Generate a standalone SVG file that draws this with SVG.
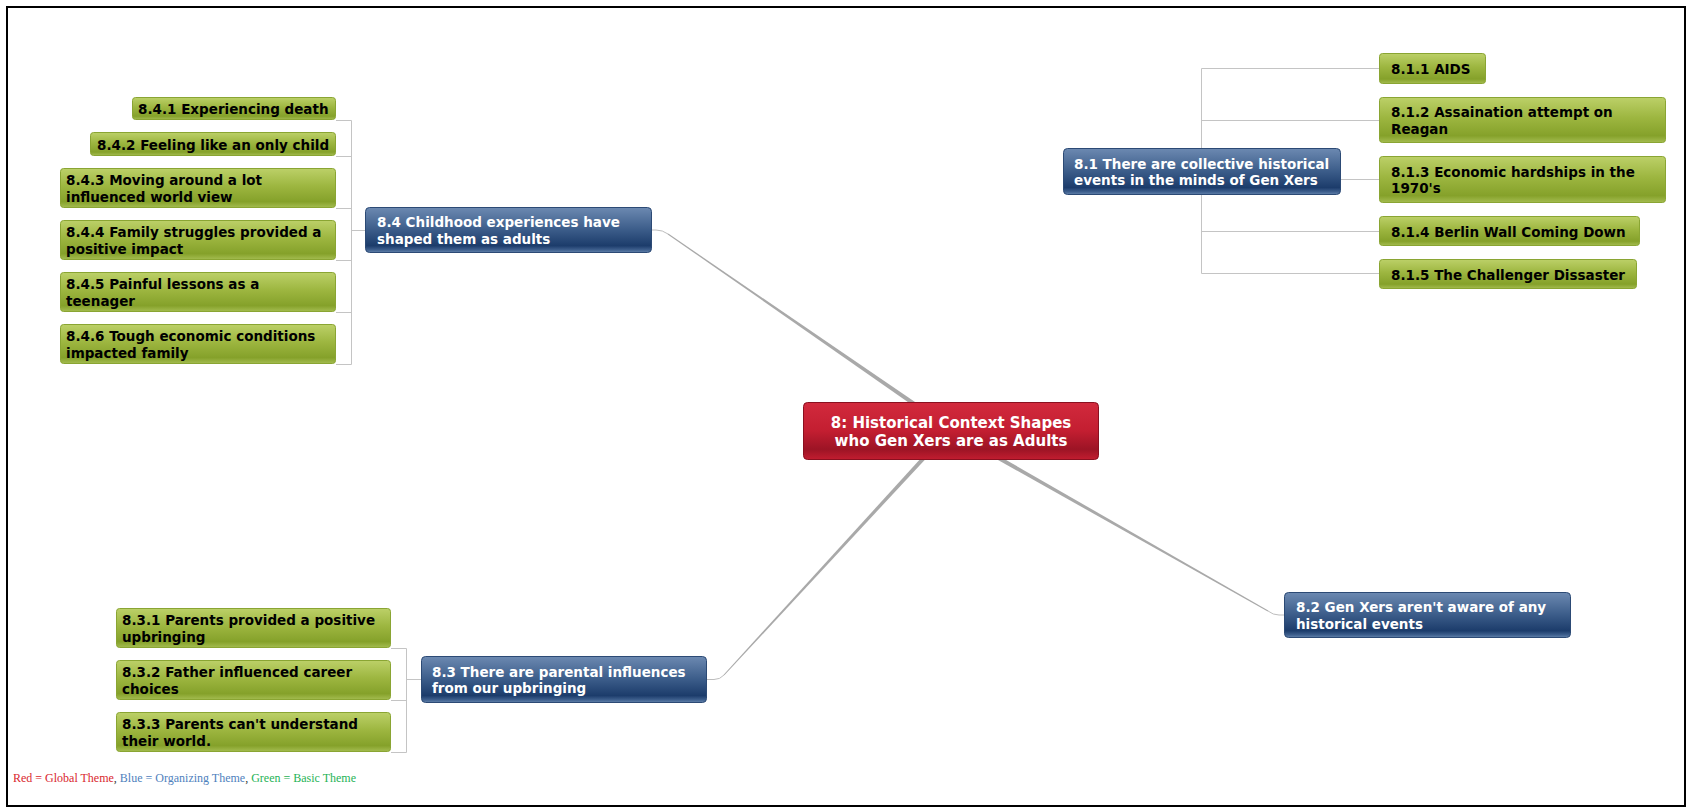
<svg xmlns="http://www.w3.org/2000/svg" width="1687" height="808" viewBox="0 0 1687 808">
  <defs>
    <linearGradient id="gGreen" x1="0" y1="0" x2="0" y2="1">
      <stop offset="0" stop-color="#bcd068"/>
      <stop offset="0.45" stop-color="#9db640"/>
      <stop offset="0.85" stop-color="#85a12a"/>
      <stop offset="1" stop-color="#a4bc50"/>
    </linearGradient>
    <linearGradient id="gBlue" x1="0" y1="0" x2="0" y2="1">
      <stop offset="0" stop-color="#6c89b1"/>
      <stop offset="0.5" stop-color="#3b5c89"/>
      <stop offset="0.85" stop-color="#1c3c6b"/>
      <stop offset="0.94" stop-color="#3e5f8d"/>
      <stop offset="1" stop-color="#6282ab"/>
    </linearGradient>
    <linearGradient id="gRed" x1="0" y1="0" x2="0" y2="1">
      <stop offset="0" stop-color="#d22a3d"/>
      <stop offset="0.5" stop-color="#c31e31"/>
      <stop offset="0.82" stop-color="#9c1425"/>
      <stop offset="1" stop-color="#c21d30"/>
    </linearGradient>
  </defs>
  <style>
    .frame { fill: #ffffff; stroke: #000000; stroke-width: 2; }
    .green { fill: url(#gGreen); stroke: #8aa533; stroke-width: 1; }
    .blue { fill: url(#gBlue); stroke: #2c4a75; stroke-width: 1; }
    .red { fill: url(#gRed); stroke: #8a1020; stroke-width: 1; }
    .tg { font-family: "DejaVu Sans", Verdana, sans-serif; font-weight: bold; font-size: 13.5px; fill: #000000; }
    .tb { font-family: "DejaVu Sans", Verdana, sans-serif; font-weight: bold; font-size: 13.5px; fill: #ffffff; }
    .tr { font-family: "DejaVu Sans", Verdana, sans-serif; font-weight: bold; font-size: 15px; fill: #ffffff; text-anchor: middle; }
    .br { fill: none; stroke: #c4c4c4; stroke-width: 1; }
    .main { fill: #a9a9a9; }
    .mainend { fill: none; stroke: #bdbdbd; stroke-width: 1; }
    .legend { font-family: "Liberation Serif", "Times New Roman", serif; font-size: 12px; }
  </style>

  <rect class="frame" x="7" y="7" width="1678" height="799"/>

  <!-- connectors -->
  <g id="connectors">
    <!-- central topic to 8.4 -->
    <polygon class="main" points="916.89,403.36 668.29,233.59 667.71,234.41 914.61,406.64"/>
    <path class="mainend" d="M668,234 Q662.5,230 656,230 L652,230"/>
    <!-- central topic to 8.3 -->
    <polygon class="main" points="927.47,456.95 724.37,675.34 723.63,674.66 924.53,454.25"/>
    <path class="mainend" d="M724,675 Q720,679.5 714,679.5 L707,679.5"/>
    <!-- central topic to 8.2 -->
    <polygon class="main" points="995.81,458.74 1267.75,611.43 1268.25,610.57 997.79,455.26"/>
    <path class="mainend" d="M1268,611 Q1273,615 1279,615 L1284,615"/>

    <!-- 8.4 bracket -->
    <path class="br" d="M351.5,120.5 V364.5 M336,120.5 H351.5 M336,156.5 H351.5 M336,208.5 H351.5 M336,260.5 H351.5 M336,312.5 H351.5 M336,364.5 H351.5 M351.5,230.5 H365"/>
    <!-- 8.3 bracket -->
    <path class="br" d="M406.5,648.5 V752.5 M391,648.5 H406.5 M391,700.5 H406.5 M391,752.5 H406.5 M406.5,679.5 H421"/>
    <!-- 8.1 bracket -->
    <path class="br" d="M1201.5,68.5 V273.5 M1201.5,68.5 H1379 M1201.5,120.5 H1379 M1341,179.5 H1379 M1201.5,231.5 H1379 M1201.5,273.5 H1379"/>
  </g>

  <!-- central topic -->
  <g id="n8">
    <rect class="red" x="803.5" y="402.5" width="295" height="57" rx="4"/>
    <text class="tr" x="951" y="427.5">8: Historical Context Shapes</text>
    <text class="tr" x="951" y="445.5">who Gen Xers are as Adults</text>
  </g>

  <!-- 8.1 -->
  <g id="n8_1">
    <rect class="blue" x="1063.5" y="148.5" width="277" height="46" rx="4"/>
    <text class="tb" x="1074" y="168.5">8.1 There are collective historical</text>
    <text class="tb" x="1074" y="185">events in the minds of Gen Xers</text>
  </g>
  <g id="n8_1_1">
    <rect class="green" x="1379.5" y="53.5" width="106" height="30" rx="3"/>
    <text class="tg" x="1391" y="74">8.1.1 AIDS</text>
  </g>
  <g id="n8_1_2">
    <rect class="green" x="1379.5" y="97.5" width="286" height="45" rx="3"/>
    <text class="tg" x="1391" y="117">8.1.2 Assaination attempt on</text>
    <text class="tg" x="1391" y="133.5">Reagan</text>
  </g>
  <g id="n8_1_3">
    <rect class="green" x="1379.5" y="156.5" width="286" height="46" rx="3"/>
    <text class="tg" x="1391" y="176.5">8.1.3 Economic hardships in the</text>
    <text class="tg" x="1391" y="193">1970's</text>
  </g>
  <g id="n8_1_4">
    <rect class="green" x="1379.5" y="216.5" width="260" height="29" rx="3"/>
    <text class="tg" x="1391" y="236.5">8.1.4 Berlin Wall Coming Down</text>
  </g>
  <g id="n8_1_5">
    <rect class="green" x="1379.5" y="259.5" width="257" height="29" rx="3"/>
    <text class="tg" x="1391" y="279.5">8.1.5 The Challenger Dissaster</text>
  </g>

  <!-- 8.2 -->
  <g id="n8_2">
    <rect class="blue" x="1284.5" y="592.5" width="286" height="45" rx="4"/>
    <text class="tb" x="1296" y="612">8.2 Gen Xers aren't aware of any</text>
    <text class="tb" x="1296" y="628.5">historical events</text>
  </g>

  <!-- 8.3 -->
  <g id="n8_3">
    <rect class="blue" x="421.5" y="656.5" width="285" height="46" rx="4"/>
    <text class="tb" x="432" y="676.5">8.3 There are parental influences</text>
    <text class="tb" x="432" y="693">from our upbringing</text>
  </g>
  <g id="n8_3_1">
    <rect class="green" x="116.5" y="608.5" width="274" height="39" rx="3"/>
    <text class="tg" x="122" y="625">8.3.1 Parents provided a positive</text>
    <text class="tg" x="122" y="641.5">upbringing</text>
  </g>
  <g id="n8_3_2">
    <rect class="green" x="116.5" y="660.5" width="274" height="39" rx="3"/>
    <text class="tg" x="122" y="677">8.3.2 Father influenced career</text>
    <text class="tg" x="122" y="693.5">choices</text>
  </g>
  <g id="n8_3_3">
    <rect class="green" x="116.5" y="712.5" width="274" height="39" rx="3"/>
    <text class="tg" x="122" y="729">8.3.3 Parents can't understand</text>
    <text class="tg" x="122" y="745.5">their world.</text>
  </g>

  <!-- 8.4 -->
  <g id="n8_4">
    <rect class="blue" x="365.5" y="207.5" width="286" height="45" rx="4"/>
    <text class="tb" x="377" y="227">8.4 Childhood experiences have</text>
    <text class="tb" x="377" y="243.5">shaped them as adults</text>
  </g>
  <g id="n8_4_1">
    <rect class="green" x="132.5" y="97.5" width="203" height="22" rx="3"/>
    <text class="tg" x="138" y="114">8.4.1 Experiencing death</text>
  </g>
  <g id="n8_4_2">
    <rect class="green" x="90.5" y="132.5" width="245" height="23" rx="3"/>
    <text class="tg" x="97" y="149.5">8.4.2 Feeling like an only child</text>
  </g>
  <g id="n8_4_3">
    <rect class="green" x="60.5" y="168.5" width="275" height="39" rx="3"/>
    <text class="tg" x="66" y="185">8.4.3 Moving around a lot</text>
    <text class="tg" x="66" y="201.5">influenced world view</text>
  </g>
  <g id="n8_4_4">
    <rect class="green" x="60.5" y="220.5" width="275" height="39" rx="3"/>
    <text class="tg" x="66" y="237">8.4.4 Family struggles provided a</text>
    <text class="tg" x="66" y="253.5">positive impact</text>
  </g>
  <g id="n8_4_5">
    <rect class="green" x="60.5" y="272.5" width="275" height="39" rx="3"/>
    <text class="tg" x="66" y="289">8.4.5 Painful lessons as a</text>
    <text class="tg" x="66" y="305.5">teenager</text>
  </g>
  <g id="n8_4_6">
    <rect class="green" x="60.5" y="324.5" width="275" height="39" rx="3"/>
    <text class="tg" x="66" y="341">8.4.6 Tough economic conditions</text>
    <text class="tg" x="66" y="357.5">impacted family</text>
  </g>

  <!-- colour key -->
  <text class="legend" x="13" y="782"><tspan fill="#d9272e">Red = Global Theme</tspan><tspan fill="#333333">, </tspan><tspan fill="#4f81bd">Blue = Organizing Theme</tspan><tspan fill="#333333">, </tspan><tspan fill="#1fb356">Green = Basic Theme</tspan></text>
</svg>
